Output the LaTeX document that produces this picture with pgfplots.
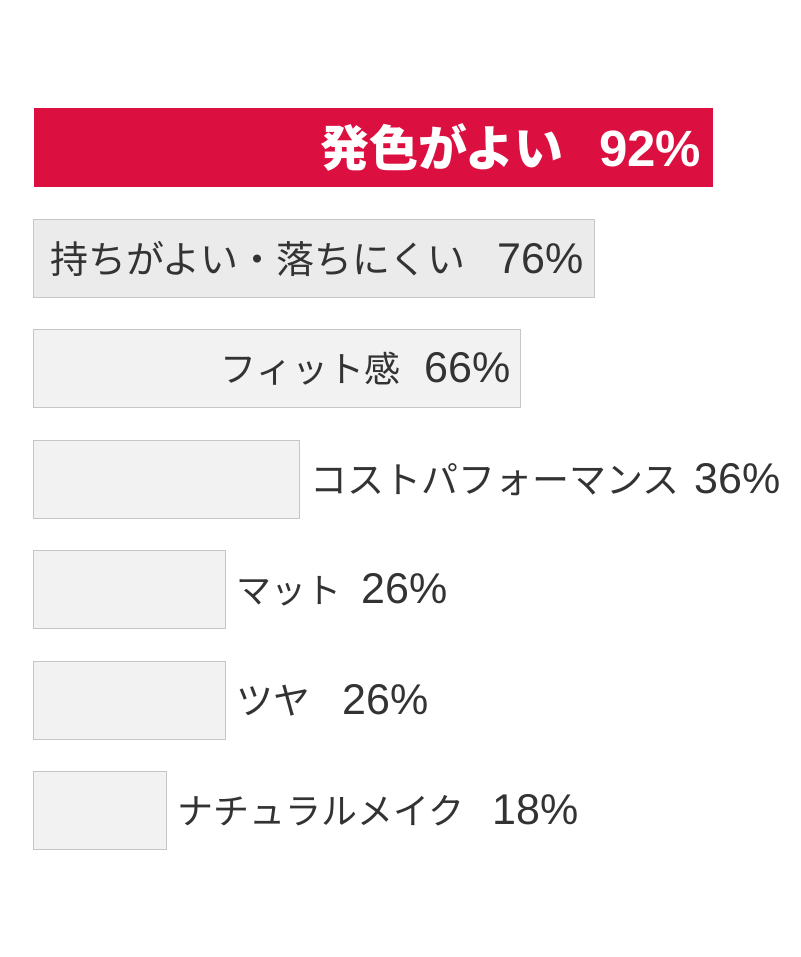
\documentclass[border=0pt]{standalone}
\usepackage{fontspec}
\setmainfont{Noto Sans CJK JP}
\newfontfamily\latin{Liberation Sans}
\usepackage{pgfplots}
\pgfplotsset{compat=1.18}

\definecolor{accent}{HTML}{DC0F41}
\definecolor{barfill}{HTML}{F2F2F2}
\definecolor{barfilltwo}{HTML}{EBEBEB}
\definecolor{barline}{HTML}{C6C6C6}
\definecolor{txt}{HTML}{333333}

% label text: size, name, gap, percent
\newcommand{\lbl}[4]{{\fontsize{#1}{40}\selectfont #2}\hspace{#3}{\latin\fontsize{43}{44}\selectfont #4\%}}

\begin{document}
\begin{tikzpicture}
\begin{axis}[
    name=ax,
    scale only axis,
    width=800pt, height=957pt,
    xmin=-4.610, xmax=103.864,
    ymin=0, ymax=957,
    y dir=reverse,
    axis lines=none,
    ticks=none,
    xbar, bar shift=0pt,
    bar width=78pt,
    clip=false,
    point meta=explicit symbolic,
    nodes near coords,
    every node near coord/.append style={inner sep=0pt, text=txt},
]
% labels inside the bar, right-aligned
\addplot[fill=accent, draw=none, bar width=79pt,
    every node near coord/.append style={anchor=east, xshift=-11pt, text=white}]
    coordinates {(92,147.5) [{\bfseries\fontsize{49}{52}\selectfont 発色がよい}\hspace{36pt}{\latin\bfseries\fontsize{51}{52}\selectfont 92\%}]};
\addplot[fill=barfilltwo, draw=barline, line width=1pt,
    every node near coord/.append style={anchor=east, xshift=-10pt}]
    coordinates {(76,258.5) [\lbl{38}{持ちがよい・落ちにくい}{32pt}{76}]};
\addplot[fill=barfill, draw=barline, line width=1pt,
    every node near coord/.append style={anchor=east, xshift=-10pt}]
    coordinates {(66,368.5) [\lbl{36}{フィット感}{24pt}{66}]};
% labels outside the bar
\addplot[fill=barfill, draw=barline, line width=1pt,
    every node near coord/.append style={anchor=west, xshift=10pt}]
    coordinates {
        (36,479.5) [\lbl{37}{コストパフォーマンス}{15pt}{36}]
        (26,589.5) [\lbl{35}{マット}{20pt}{26}]
        (26,700.5) [\lbl{37}{ツヤ}{32pt}{26}]
        (18,810.5) [\lbl{36}{ナチュラルメイク}{28pt}{18}]
    };
\end{axis}
\pgfresetboundingbox
\path (ax.south west) rectangle (ax.north east);
\end{tikzpicture}
\end{document}
